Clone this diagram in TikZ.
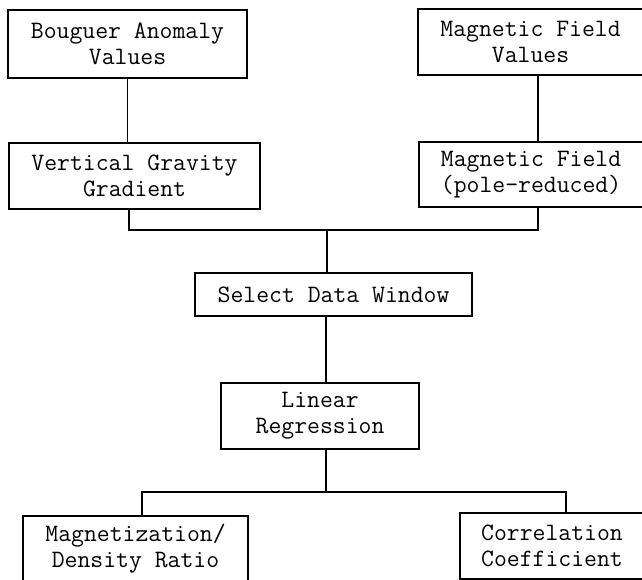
\documentclass[tikz,border=0pt]{standalone}
\usepackage{fontspec}
\tikzset{
  box/.style={draw, line width=0.6pt, rectangle, align=center, inner sep=0pt,
    font=\ttfamily\fontsize{12.5}{13}\selectfont},
  link/.style={line width=0.6pt}
}

\begin{document}
\begin{tikzpicture}[x=0.5pt, y=-0.5pt]
    \useasboundingbox (0,0) rectangle (642,579);
    \node[box, minimum width=119.5pt, minimum height=34pt] (bouguer) at (127.5,44) {Bouguer Anomaly\\Values};
    \node[box, minimum width=112.5pt, minimum height=33pt] (magval) at (530.5,42) {Magnetic Field\\Values};
    \node[box, minimum width=125.5pt, minimum height=33pt] (vgg) at (134.5,176) {Vertical Gravity\\Gradient};
    \node[box, minimum width=112pt, minimum height=32.5pt] (magpole) at (531,174.5) {Magnetic Field\\(pole-reduced)};
    \node[box, minimum width=138.5pt, minimum height=21.5pt] (window) at (333.5,294.5) {Select Data Window};
    \node[box, minimum width=99pt, minimum height=33pt] (regr) at (320,416) {Linear\\Regression};
    \node[box, minimum width=112.5pt, minimum height=33pt] (ratio) at (135.5,549) {Magnetization/\\Density Ratio};
    \node[box, minimum width=92pt, minimum height=33pt] (coeff) at (552,546) {Correlation\\Coefficient};
    \coordinate (gtrunk) at (129,0);
    \coordinate (mtrunk) at (538,0);
    \coordinate (join) at (327,230);
    \coordinate (split) at (326,492);
    \coordinate (lbranch) at (142,0);
    \coordinate (rbranch) at (566,0);
    \draw[link] (bouguer.south) -- (bouguer.south |- vgg.north);
    \draw[link] (magval.south -| mtrunk) -- (magpole.north -| mtrunk);
    \draw[link] (vgg.south -| gtrunk) |- (join) -| (magpole.south -| mtrunk);
    \draw[link] (join) -- (join |- window.north);
    \draw[link] (window.south -| split) -- (regr.north -| split);
    \draw[link] (regr.south -| split) -- (split);
    \draw[link] (ratio.north -| lbranch) |- (split) -| (coeff.north -| rbranch);
\end{tikzpicture}
\end{document}
